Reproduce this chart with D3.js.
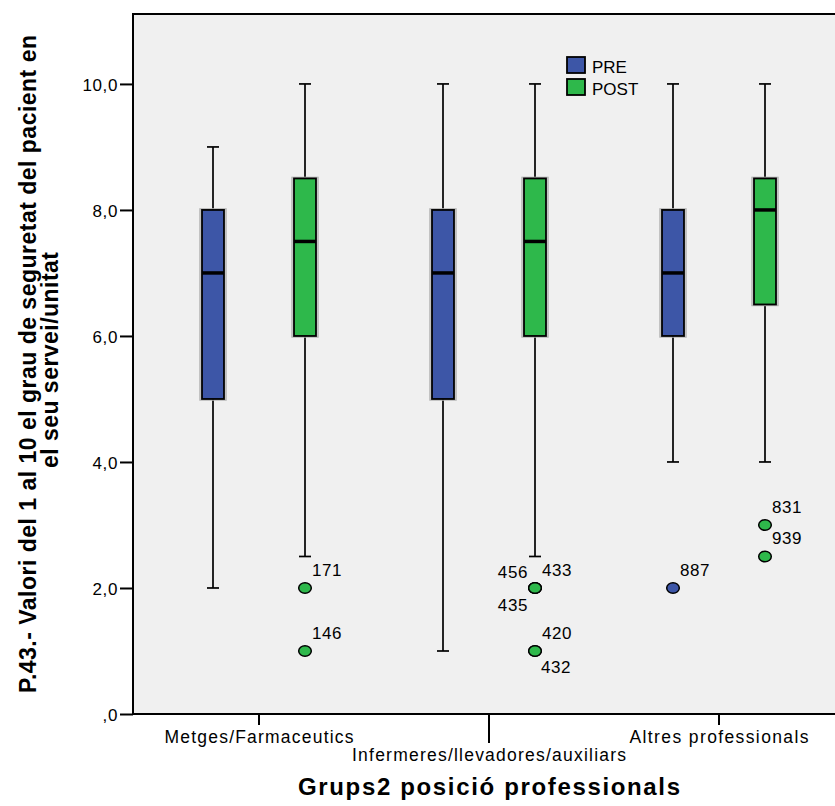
<!DOCTYPE html>
<html>
<head>
<meta charset="utf-8">
<script src="https://cdn.jsdelivr.net/npm/d3@7"></script>
<style>
  body { margin: 0; background: #fff; }
  svg text { font-family: "Liberation Sans", Arial, sans-serif; fill: #000; }
</style>
</head>
<body>
<div id="chart"></div>
<script>
// categories and groups
var categories = ["Metges/Farmaceutics", "Infermeres/llevadores/auxiliars", "Altres professionals"]
var groups = ["PRE", "POST"]

// box statistics per category
var preMin = [2, 1, 4]
var preQ1 = [5, 5, 6]
var preMed = [7, 7, 7]
var preQ3 = [8, 8, 8]
var preMax = [9, 10, 10]

var postMin = [2.5, 2.5, 4]
var postQ1 = [6, 6, 6.5]
var postMed = [7.5, 7.5, 8]
var postQ3 = [8.5, 8.5, 8.5]
var postMax = [10, 10, 10]

// outliers: category, group, value, case id
var outliers = [
  ["Metges/Farmaceutics", "POST", 2, "171"],
  ["Metges/Farmaceutics", "POST", 1, "146"],
  ["Infermeres/llevadores/auxiliars", "POST", 2, "456"],
  ["Infermeres/llevadores/auxiliars", "POST", 2, "433"],
  ["Infermeres/llevadores/auxiliars", "POST", 2, "435"],
  ["Infermeres/llevadores/auxiliars", "POST", 1, "420"],
  ["Infermeres/llevadores/auxiliars", "POST", 1, "432"],
  ["Altres professionals", "PRE", 2, "887"],
  ["Altres professionals", "POST", 3, "831"],
  ["Altres professionals", "POST", 2.5, "939"]
]

var yTicks = [0, 2, 4, 6, 8, 10]

var colors = { PRE: "#3d56a7", POST: "#2eb84b" }

var width = 835, height = 806
var plotLeft = 133, plotTop = 14, plotBottom = 714

var svg = d3.select("#chart").append("svg")
    .attr("width", width)
    .attr("height", height)

var x = d3.scaleBand()
    .domain(categories)
    .range([144, 834])
    .padding(0)

var xg = d3.scalePoint()
    .domain(groups)
    .range([0, x.bandwidth()])
    .padding(0.75)

var y = d3.scaleLinear()
    .domain([0, 11.11])
    .range([plotBottom, plotTop])

// plot background
svg.append("rect")
    .attr("x", plotLeft)
    .attr("y", plotTop)
    .attr("width", width - plotLeft + 5)
    .attr("height", plotBottom - plotTop)
    .attr("fill", "#f0f0f0")
    .attr("stroke", "#000")
    .attr("stroke-width", 2)

// build box records
var boxes = []
categories.forEach(function(c, i) {
  boxes.push({ cat: c, grp: "PRE", min: preMin[i], q1: preQ1[i], med: preMed[i], q3: preQ3[i], max: preMax[i] })
  boxes.push({ cat: c, grp: "POST", min: postMin[i], q1: postQ1[i], med: postMed[i], q3: postQ3[i], max: postMax[i] })
})

function cx(cat, grp) { return x(cat) + xg(grp) }

var boxW = 24, capW = 12

var bx = svg.append("g").attr("class", "boxes")
  .selectAll("g")
  .data(boxes)
  .enter()
  .append("g")

// whiskers
bx.append("line")
    .attr("x1", function(d) { return cx(d.cat, d.grp) })
    .attr("x2", function(d) { return cx(d.cat, d.grp) })
    .attr("y1", function(d) { return y(d.max) })
    .attr("y2", function(d) { return y(d.min) })
    .attr("stroke", "#000")
    .attr("stroke-width", 1.7)

bx.selectAll(".cap")
    .data(function(d) { return [{ d: d, v: d.min }, { d: d, v: d.max }] })
    .enter()
    .append("line")
    .attr("class", "cap")
    .attr("x1", function(e) { return cx(e.d.cat, e.d.grp) - capW / 2 })
    .attr("x2", function(e) { return cx(e.d.cat, e.d.grp) + capW / 2 })
    .attr("y1", function(e) { return y(e.v) })
    .attr("y2", function(e) { return y(e.v) })
    .attr("stroke", "#000")
    .attr("stroke-width", 1.7)

// soft shadow round the box
bx.append("rect")
    .attr("x", function(d) { return cx(d.cat, d.grp) - boxW / 2 - 1 })
    .attr("y", function(d) { return y(d.q3) - 1 })
    .attr("width", boxW + 2)
    .attr("height", function(d) { return y(d.q1) - y(d.q3) + 2 })
    .attr("fill", "none")
    .attr("stroke", "#b4b4b4")
    .attr("stroke-width", 1.5)

bx.append("rect")
    .attr("x", function(d) { return cx(d.cat, d.grp) - boxW / 2 + 1 })
    .attr("y", function(d) { return y(d.q3) })
    .attr("width", boxW - 2)
    .attr("height", function(d) { return y(d.q1) - y(d.q3) })
    .attr("fill", function(d) { return colors[d.grp] })
    .attr("stroke", "#000")
    .attr("stroke-width", 1.8)

bx.append("line")
    .attr("x1", function(d) { return cx(d.cat, d.grp) - boxW / 2 + 1 })
    .attr("x2", function(d) { return cx(d.cat, d.grp) + boxW / 2 - 1 })
    .attr("y1", function(d) { return y(d.med) })
    .attr("y2", function(d) { return y(d.med) })
    .attr("stroke", "#000")
    .attr("stroke-width", 3.5)

// outliers
var outG = svg.append("g").attr("class", "outliers")

outG.selectAll("ellipse")
    .data(outliers)
    .enter()
    .append("ellipse")
    .attr("cx", function(d) { return cx(d[0], d[1]) })
    .attr("cy", function(d) { return y(d[2]) })
    .attr("rx", 6.3)
    .attr("ry", 5.3)
    .attr("fill", function(d) { return colors[d[1]] })
    .attr("stroke", "#000")
    .attr("stroke-width", 1.5)

// where each case label sits round its point
var labelSide = { "171": "ur", "146": "ur", "456": "ul", "433": "ur", "435": "ll",
  "420": "ur", "432": "lr", "887": "ur", "831": "ur", "939": "ur" }
var sideOffset = {
  ur: { dx: 7, dy: -12, anchor: "start" },
  ul: { dx: -7, dy: -10, anchor: "end" },
  ll: { dx: -7, dy: 23, anchor: "end" },
  lr: { dx: 6, dy: 22, anchor: "start" }
}

outG.selectAll("text")
    .data(outliers)
    .enter()
    .append("text")
    .attr("x", function(d) { return cx(d[0], d[1]) + sideOffset[labelSide[d[3]]].dx })
    .attr("y", function(d) { return y(d[2]) + sideOffset[labelSide[d[3]]].dy })
    .attr("text-anchor", function(d) { return sideOffset[labelSide[d[3]]].anchor })
    .style("font-size", "17px")
    .style("letter-spacing", "0.6px")
    .text(function(d) { return d[3] })

// y axis
var yAxis = svg.append("g")
    .attr("transform", "translate(" + plotLeft + ",0)")
    .call(d3.axisLeft(y)
      .tickValues(yTicks)
      .tickSize(13)
      .tickSizeOuter(0)
      .tickPadding(2)
      .tickFormat(function(d) { return d === 0 ? ",0" : d3.format(".1f")(d).replace(".", ",") }))
yAxis.select(".domain").remove()
yAxis.selectAll(".tick line").attr("stroke", "#000").attr("stroke-width", 2)
yAxis.selectAll(".tick text")
    .style("font-size", "17px")
    .style("font-family", "'Liberation Sans', Arial, sans-serif")
    .style("letter-spacing", "0.6px")
    .attr("dy", "0.36em")

// x axis
var xAxis = svg.append("g")
    .attr("transform", "translate(0," + plotBottom + ")")
    .call(d3.axisBottom(x).tickSize(11).tickSizeOuter(0))
xAxis.select(".domain").remove()
xAxis.selectAll(".tick line")
    .attr("stroke", "#000")
    .attr("stroke-width", 2)
    .attr("y2", function(d, i) { return i === 1 ? 29 : 11 })
var labelLen = [189, 274, 179]
xAxis.selectAll(".tick text")
    .attr("y", function(d, i) { return i === 1 ? 47 : 29 })
    .attr("dy", 0)
    .attr("textLength", function(d, i) { return labelLen[i] })
    .attr("lengthAdjust", "spacing")
    .style("font-size", "17.5px")
    .style("font-family", "'Liberation Sans', Arial, sans-serif")

// bottom frame line over the ticks
svg.append("line")
    .attr("x1", plotLeft).attr("x2", width)
    .attr("y1", plotBottom).attr("y2", plotBottom)
    .attr("stroke", "#000").attr("stroke-width", 2)

// axis titles
svg.append("text")
    .attr("x", 489)
    .attr("y", 795)
    .attr("text-anchor", "middle")
    .attr("textLength", 382)
    .attr("lengthAdjust", "spacing")
    .style("font-size", "24px")
    .style("font-weight", "bold")
    .text("Grups2 posició professionals")

var yTitle = svg.append("g").attr("transform", "rotate(-90)")
yTitle.append("text")
    .attr("x", -364)
    .attr("y", 36)
    .attr("text-anchor", "middle")
    .attr("textLength", 658)
    .attr("lengthAdjust", "spacing")
    .style("font-size", "23px")
    .style("font-weight", "bold")
    .text("P.43.- Valori del 1 al 10 el grau de seguretat del pacient en")
yTitle.append("text")
    .attr("x", -360)
    .attr("y", 58)
    .attr("text-anchor", "middle")
    .attr("textLength", 216)
    .attr("lengthAdjust", "spacing")
    .style("font-size", "23px")
    .style("font-weight", "bold")
    .text("el seu servei/unitat")

// legend
var legend = svg.append("g").attr("class", "legend")
  .selectAll("g")
  .data(groups)
  .enter()
  .append("g")
  .attr("transform", function(d, i) { return "translate(567," + (57 + i * 22) + ")" })

legend.append("rect")
    .attr("width", 18)
    .attr("height", 16)
    .attr("fill", function(d) { return colors[d] })
    .attr("stroke", "#000")
    .attr("stroke-width", 1.8)

legend.append("text")
    .attr("x", 25)
    .attr("y", 16)
    .style("font-size", "17px")
    .text(function(d) { return d })
</script>
</body>
</html>
